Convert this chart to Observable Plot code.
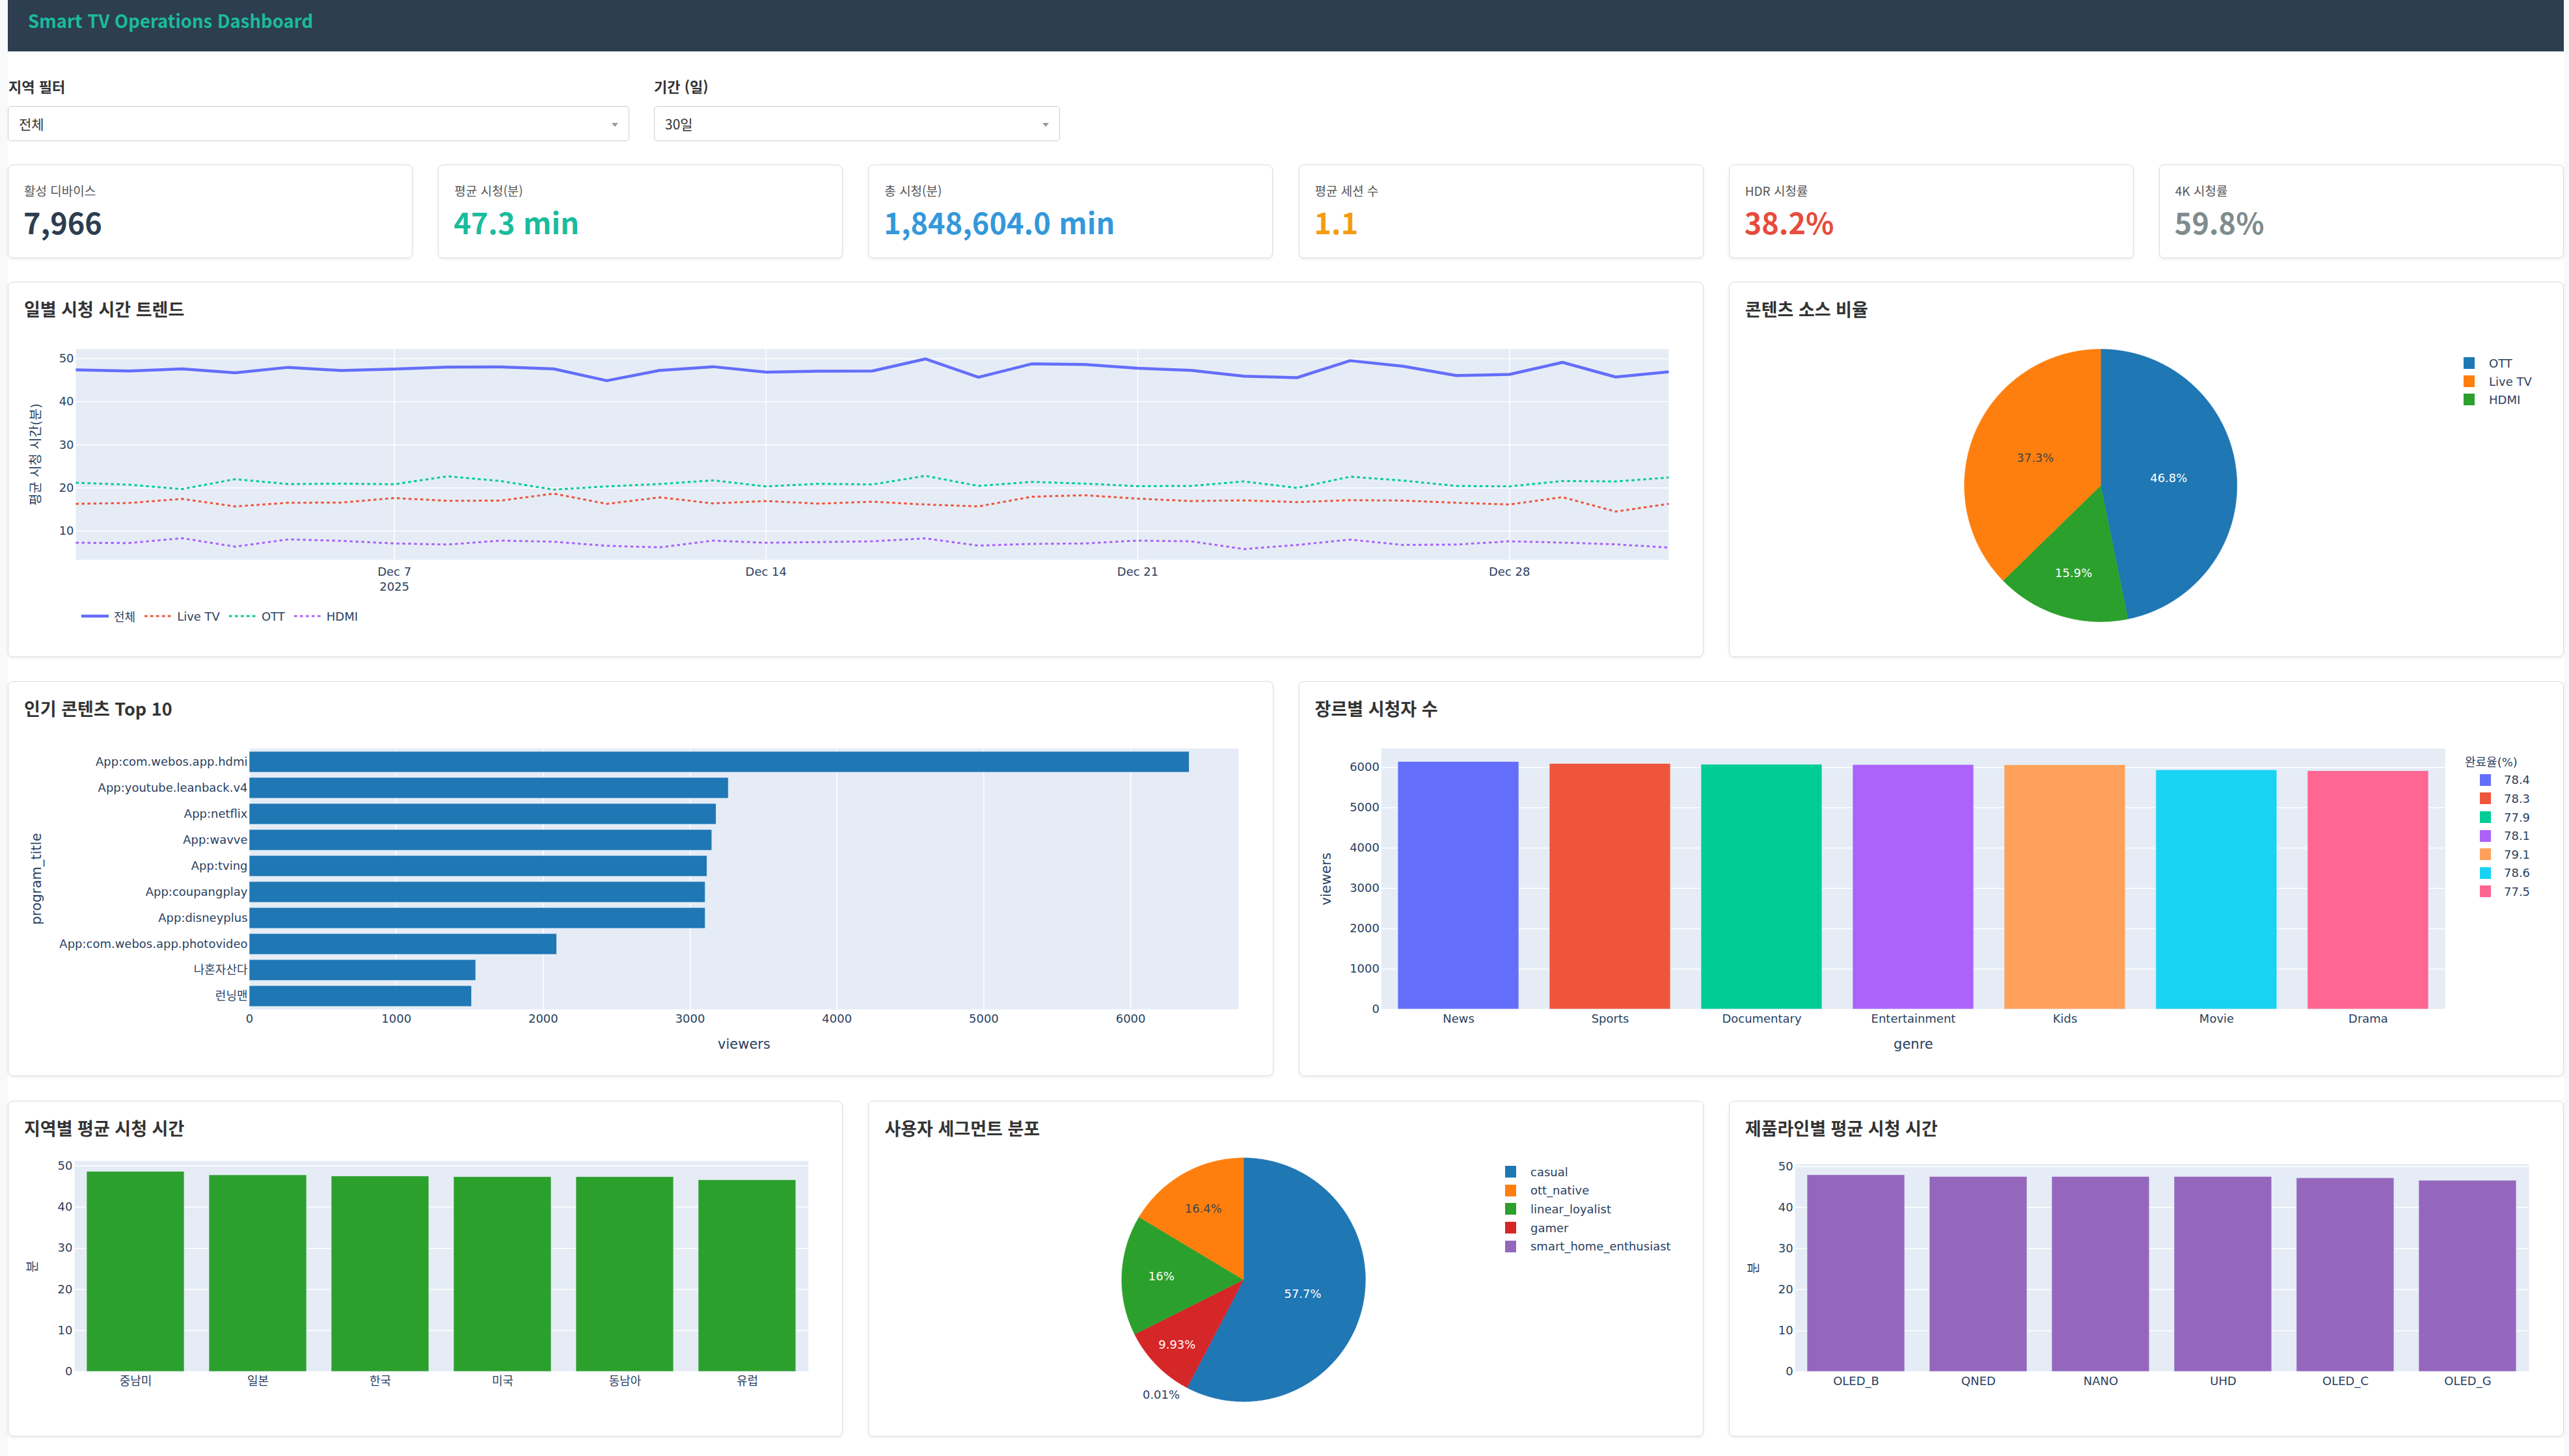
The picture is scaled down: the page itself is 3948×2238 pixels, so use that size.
<!DOCTYPE html>
<html lang="ko">
<head>
<meta charset="utf-8">
<title>Smart TV Operations Dashboard</title>
<script src="https://cdn.jsdelivr.net/npm/d3@7"></script>
<script src="https://cdn.jsdelivr.net/npm/@observablehq/plot@0.6"></script>
<style>
  html, body { margin: 0; padding: 0; }
  body { position: relative; width: 3948px; height: 2238px; overflow: hidden; background: #f8f9fa;
         font-family: "Noto Sans CJK KR", "Noto Sans", sans-serif; color: #333; }
  .abs { position: absolute; }
  #sheet { left: 12px; top: 0; width: 3928px; height: 2238px; background: #fff; }
  #header { left: 12px; top: 0; width: 3928px; height: 79px; background: #2c3e50; }
  #header h1 { position: absolute; margin: 0; left: 31px; top: 17px; font-size: 27.5px; line-height: 28px;
               font-weight: 700; color: #1abc9c; white-space: nowrap; }
  .flabel { font-size: 22px; line-height: 22px; font-weight: 700; color: #333; white-space: nowrap; }
  .select { box-sizing: border-box; height: 54px; border: 1px solid #ccc; border-radius: 5px; background: #fff; }
  .select span { position: absolute; left: 16px; top: 0; line-height: 52px; font-size: 21px; color: #333; }
  .select i { position: absolute; right: 16px; top: 25px; width: 0; height: 0;
              border-left: 5px solid transparent; border-right: 5px solid transparent; border-top: 6px solid #999; }
  .card { box-sizing: border-box; border: 1px solid #dcdcdc; border-radius: 8px; background: #fff;
          box-shadow: 0 2px 5px rgba(0,0,0,0.07); }
  .kpi-label { position: absolute; left: 24px; top: 29px; font-size: 19px; line-height: 20px; color: #555; white-space: nowrap; }
  .kpi-value { position: absolute; left: 23px; top: 64px; font-size: 45px; line-height: 45px; font-weight: 700; white-space: nowrap; }
  .ctitle { position: absolute; left: 24px; top: 27px; font-size: 27px; line-height: 28px; font-weight: 600; color: #333; white-space: nowrap; }
  .legend { position: absolute; font-family: "DejaVu Sans", "Noto Sans CJK KR", sans-serif; font-size: 18px; color: #2a3f5f; white-space: nowrap; }
  .legend .row { display: flex; align-items: center; }
  .legend .sw { display: inline-block; width: 17px; height: 18px; }
</style>
</head>
<body>
<div id="sheet" class="abs"></div>
<div id="header" class="abs"><h1>Smart TV Operations Dashboard</h1></div>

<div class="abs flabel" style="left:13px; top:121px;">지역 필터</div>
<div class="abs select" style="left:12px; top:163px; width:955px;"><span>전체</span><i></i></div>
<div class="abs flabel" style="left:1005px; top:121px;">기간 (일)</div>
<div class="abs select" style="left:1005px; top:163px; width:624px;"><span>30일</span><i></i></div>

<script>
// ---------- KPI tiles ----------
const kpiLabels = ["활성 디바이스", "평균 시청(분)", "총 시청(분)", "평균 세션 수", "HDR 시청률", "4K 시청률"];
const kpiValues = ["7,966", "47.3 min", "1,848,604.0 min", "1.1", "38.2%", "59.8%"];
const kpiInk = ["#2c3e50", "#1abc9c", "#3498db", "#f39c12", "#e74c3c", "#7f8c8d"];

// ---------- daily viewing trend (minutes) ----------
const days = [
  "2025-12-01","2025-12-02","2025-12-03","2025-12-04","2025-12-05","2025-12-06","2025-12-07",
  "2025-12-08","2025-12-09","2025-12-10","2025-12-11","2025-12-12","2025-12-13","2025-12-14",
  "2025-12-15","2025-12-16","2025-12-17","2025-12-18","2025-12-19","2025-12-20","2025-12-21",
  "2025-12-22","2025-12-23","2025-12-24","2025-12-25","2025-12-26","2025-12-27","2025-12-28",
  "2025-12-29","2025-12-30","2025-12-31"
];
const totalMinutes = [47.4, 47.15, 47.65, 46.75, 48.0, 47.25, 47.6, 48.05, 48.1, 47.65, 44.9, 47.3, 48.15, 46.9, 47.1, 47.15,
  49.95, 45.7, 48.8, 48.65, 47.8, 47.3, 45.95, 45.6, 49.55, 48.25, 46.1, 46.35, 49.15, 45.75, 46.95];
const liveTvMinutes = [16.3, 16.5, 17.45, 15.7, 16.55, 16.6, 17.65, 17.0, 17.05, 18.67, 16.3, 17.8, 16.4, 16.95, 16.35, 16.8,
  16.15, 15.7, 17.95, 18.3, 17.5, 16.95, 17.1, 16.7, 17.15, 17.05, 16.55, 16.15, 17.85, 14.5, 16.3];
const ottMinutes = [21.2, 20.74, 19.73, 22.03, 20.9, 21.0, 20.85, 22.7, 21.6, 19.6, 20.35, 20.9, 21.75, 20.35, 20.96, 20.8,
  22.8, 20.46, 21.4, 21.0, 20.4, 20.46, 21.5, 20.0, 22.6, 21.7, 20.46, 20.35, 21.6, 21.5, 22.4];
const hdmiMinutes = [7.26, 7.2, 8.32, 6.36, 8.04, 7.7, 7.1, 6.85, 7.76, 7.5, 6.55, 6.2, 7.76, 7.26, 7.43, 7.6,
  8.27, 6.6, 7.0, 7.1, 7.76, 7.6, 5.8, 6.75, 8.0, 6.75, 6.85, 7.6, 7.3, 6.9, 6.15];
const trendNames = ["전체", "Live TV", "OTT", "HDMI"];
const trendTicks = ["2025-12-07", "2025-12-14", "2025-12-21", "2025-12-28"];
const trendYTicks = [10, 20, 30, 40, 50];

// ---------- content source share (%) ----------
const sourceNames = ["OTT", "Live TV", "HDMI"];
const sourceShares = [46.8, 37.3, 15.9];

// ---------- top 10 content ----------
const topTitles = ["App:com.webos.app.hdmi", "App:youtube.leanback.v4", "App:netflix", "App:wavve", "App:tving",
  "App:coupangplay", "App:disneyplus", "App:com.webos.app.photovideo", "나혼자산다", "런닝맨"];
const topViewers = [6401, 3262, 3179, 3150, 3117, 3105, 3105, 2093, 1542, 1514];
const viewerTicks = [0, 1000, 2000, 3000, 4000, 5000, 6000];

// ---------- viewers by genre ----------
const genres = ["News", "Sports", "Documentary", "Entertainment", "Kids", "Movie", "Drama"];
const genreViewers = [6140, 6090, 6070, 6065, 6060, 5935, 5910];
const completionRates = ["78.4", "78.3", "77.9", "78.1", "79.1", "78.6", "77.5"];

// ---------- average minutes by region ----------
const regions = ["중남미", "일본", "한국", "미국", "동남아", "유럽"];
const regionMinutes = [48.62, 47.74, 47.46, 47.3, 47.3, 46.58];

// ---------- user segments (%) ----------
const segments = ["casual", "ott_native", "linear_loyalist", "gamer", "smart_home_enthusiast"];
const segmentShares = [57.7, 16.4, 16.0, 9.93, 0.01];

// ---------- average minutes by product line ----------
const productLines = ["OLED_B", "QNED", "NANO", "UHD", "OLED_C", "OLED_G"];
const productMinutes = [47.9, 47.5, 47.5, 47.5, 47.18, 46.57];
const minuteTicks = [0, 10, 20, 30, 40, 50];

// ---------- styling ----------
const CHART_FONT = "'DejaVu Sans', 'Noto Sans CJK KR', sans-serif";
const PLOT_BG = "#E5ECF6";
const AXIS_INK = "#2a3f5f";
const PLOTLY = ["#636efa", "#EF553B", "#00cc96", "#ab63fa", "#FFA15A", "#19d3f3", "#FF6692"];
const D3CAT = ["#1f77b4", "#ff7f0e", "#2ca02c", "#d62728", "#9467bd"];
const trendColors = ["#636efa", "#EF553B", "#00cc96", "#ab63fa"];
const trendWidths = [4.5, 3, 3, 3];
const trendDashes = [null, "4.5,4.5", "4.5,4.5", "4.5,4.5"];

// card rectangles and plotting areas, in page pixels
const cards = {
  trend:   {x: 12,     y: 433,  w: 2605.8, h: 577},
  source:  {x: 2656.8, y: 433,  w: 1283.2, h: 577},
  top:     {x: 12,     y: 1047, w: 1944.6, h: 607},
  genre:   {x: 1995.6, y: 1047, w: 1944.4, h: 607},
  region:  {x: 12,     y: 1692, w: 1283.4, h: 516},
  segment: {x: 1334.4, y: 1692, w: 1283.4, h: 516},
  product: {x: 2656.8, y: 1692, w: 1283.2, h: 516}
};
const frames = {
  trend:   {l: 116,  t: 536,  r: 2564, b: 860},
  top:     {l: 383,  t: 1150, r: 1903, b: 1551},
  genre:   {l: 2122, t: 1150, r: 3757, b: 1551},
  region:  {l: 114,  t: 1784, r: 1242, b: 2108},
  product: {l: 2758, t: 1789, r: 3886, b: 2108}
};
const pies = {
  source:  {cx: 3227.6, cy: 745.7,  r: 209.5},
  segment: {cx: 1911,   cy: 1966.6, r: 187.3}
};
const SVG_TOP = 80;

function svgBox(card) {
  return {ox: card.x + 1, oy: card.y + 1 + SVG_TOP, width: card.w - 2, height: card.h - 2 - SVG_TOP};
}
function layout(card, f) {
  const s = svgBox(card);
  return {
    width: s.width, height: s.height,
    marginLeft: f.l - s.ox, marginTop: f.t - s.oy,
    marginRight: s.ox + s.width - f.r, marginBottom: s.oy + s.height - f.b
  };
}
const plotStyle = {fontFamily: CHART_FONT, fontSize: "18px", color: AXIS_INK, background: "transparent", overflow: "visible"};

function makeCard(rect, title) {
  const el = document.createElement("div");
  el.className = "card abs";
  Object.assign(el.style, {left: rect.x + "px", top: rect.y + "px", width: rect.w + "px", height: rect.h + "px"});
  if (title) {
    const h = document.createElement("div");
    h.className = "ctitle";
    h.textContent = title;
    el.appendChild(h);
  }
  document.body.appendChild(el);
  return el;
}
function mount(el, svg) {
  svg.style.position = "absolute";
  svg.style.left = "0px";
  svg.style.top = SVG_TOP + "px";
  el.appendChild(svg);
}
const whiteGridX = ticks => Plot.gridX({ticks, stroke: "#fff", strokeOpacity: 1, strokeWidth: 1.5});
const whiteGridY = ticks => Plot.gridY({ticks, stroke: "#fff", strokeOpacity: 1, strokeWidth: 1.5});
const yTitle = (text, dx, fontSize = 21) => Plot.text([text], {
  text: d => d, frameAnchor: "left", dx, rotate: -90, textAnchor: "middle", lineAnchor: "middle", fontSize
});
const xTitle = (text, dy) => Plot.text([text], {
  text: d => d, frameAnchor: "bottom", dy, textAnchor: "middle", lineAnchor: "middle", fontSize: 21
});

function swatchLegend(parent, {left, top, rowH, gap, title, indent}, names, colors) {
  const lg = document.createElement("div");
  lg.className = "legend";
  Object.assign(lg.style, {left: left + "px", top: top + "px"});
  if (title) {
    const t = document.createElement("div");
    t.className = "row";
    t.style.height = rowH + "px";
    t.textContent = title;
    lg.appendChild(t);
  }
  names.forEach((n, i) => {
    const row = document.createElement("div");
    row.className = "row";
    row.style.height = rowH + "px";
    row.style.paddingLeft = (indent || 0) + "px";
    const sw = document.createElement("span");
    sw.className = "sw";
    sw.style.background = colors[i];
    const tx = document.createElement("span");
    tx.style.marginLeft = gap + "px";
    tx.textContent = n;
    row.append(sw, tx);
    lg.appendChild(row);
  });
  parent.appendChild(lg);
}

// ---------- KPI tiles ----------
kpiLabels.forEach((label, i) => {
  const colW = (3928 - 5 * 39) / 6;
  const el = makeCard({x: 12 + i * (colW + 39), y: 253, w: colW, h: 144});
  const l = document.createElement("div");
  l.className = "kpi-label";
  l.textContent = label;
  const v = document.createElement("div");
  v.className = "kpi-value";
  v.style.color = kpiInk[i];
  v.textContent = kpiValues[i];
  el.append(l, v);
});

// ---------- daily viewing trend ----------
{
  const el = makeCard(cards.trend, "일별 시청 시간 트렌드");
  const series = [totalMinutes, liveTvMinutes, ottMinutes, hdmiMinutes];
  const tickDates = trendTicks.map(d => new Date(d));
  const monthDay = d3.utcFormat("%b %-d");
  const fmt = d => +d === +tickDates[0] ? `${monthDay(d)}\n${d.getUTCFullYear()}` : monthDay(d);
  const svg = Plot.plot({
    ...layout(cards.trend, frames.trend),
    style: plotStyle,
    x: {type: "utc", domain: [new Date(days[0]), new Date(days[days.length - 1])]},
    y: {domain: [3.3, 52.25]},
    marks: [
      Plot.frame({fill: PLOT_BG, stroke: "none"}),
      whiteGridX(tickDates),
      whiteGridY(trendYTicks),
      Plot.axisX({ticks: tickDates, tickFormat: fmt, tickSize: 0, tickPadding: 8, lineHeight: 1.28, label: null}),
      Plot.axisY({ticks: trendYTicks, tickSize: 0, tickPadding: 3, label: null}),
      yTitle("평균 시청 시간(분)", -61, 20),
      ...series.map((values, s) => Plot.line(days.map((d, i) => ({date: new Date(d), value: values[i]})), {
        x: "date", y: "value", stroke: trendColors[s], strokeWidth: trendWidths[s],
        strokeDasharray: trendDashes[s] || undefined, strokeLinecap: "butt", strokeLinejoin: "round"
      }))
    ]
  });
  mount(el, svg);

  // line-sample legend under the plot
  const lg = document.createElement("div");
  lg.className = "legend";
  Object.assign(lg.style, {left: "112px", top: "501px", display: "flex", alignItems: "center", height: "24px"});
  trendNames.forEach((name, s) => {
    const item = document.createElement("div");
    item.style.cssText = "display:flex;align-items:center;margin-right:14px;";
    const sample = d3.create("svg").attr("width", 42).attr("height", 24);
    sample.append("line").attr("x1", 0).attr("x2", 42).attr("y1", 12).attr("y2", 12)
      .attr("stroke", trendColors[s]).attr("stroke-width", trendWidths[s])
      .attr("stroke-dasharray", trendDashes[s]);
    const tx = document.createElement("span");
    tx.style.marginLeft = "8px";
    tx.textContent = name;
    item.append(sample.node(), tx);
    lg.appendChild(item);
  });
  el.appendChild(lg);
}

// ---------- pies ----------
function pieChart(el, card, geo, names, shares, colors) {
  const s = svgBox(card);
  const cx = geo.cx - s.ox, cy = geo.cy - s.oy, r = geo.r;
  // first slice starts at twelve o'clock; the remaining ones run opposite to legend order
  const order = [0, ...d3.range(names.length - 1, 0, -1)];
  const arcs = d3.pie().sort(null).value(i => shares[i]).startAngle(0).endAngle(2 * Math.PI)(order);
  const outline = [], inside = [], outside = [];
  const step = Math.PI / 360;
  for (const a of arcs) {
    const i = a.data, key = names[i], color = colors[i];
    outline.push({key, color, x: 0, y: 0});
    const n = Math.max(1, Math.ceil((a.endAngle - a.startAngle) / step));
    for (let k = 0; k <= n; ++k) {
      const t = a.startAngle + (a.endAngle - a.startAngle) * k / n;
      outline.push({key, color, x: Math.sin(t), y: Math.cos(t)});
    }
    outline.push({key, color, x: 0, y: 0});
    const mid = (a.startAngle + a.endAngle) / 2, half = (a.endAngle - a.startAngle) / 2;
    const label = d3.format(".3~r")(shares[i]) + "%";
    if (shares[i] >= 1) {
      // centre the label in the wedge, pushed outward as the wedge narrows
      const sh = Math.sin(half);
      const rc = 1 - (half >= Math.PI / 2 ? 0.5 : sh / (1 + sh));
      inside.push({x: rc * Math.sin(mid), y: rc * Math.cos(mid), label,
        ink: d3.lab(color).l > 60 ? "#444444" : "#ffffff"});
    } else {
      outside.push({x: 1.07 * Math.sin(mid), y: 1.07 * Math.cos(mid), label, left: Math.sin(mid) < 0});
    }
  }
  const svg = Plot.plot({
    width: s.width, height: s.height, margin: 0,
    style: plotStyle,
    x: {domain: [-1, 1], range: [cx - r, cx + r], axis: null},
    y: {domain: [-1, 1], range: [cy + r, cy - r], axis: null},
    marks: [
      Plot.line(outline, {x: "x", y: "y", z: "key", fill: "color", stroke: "color", strokeWidth: 0.5}),
      Plot.text(inside, {x: "x", y: "y", text: "label", fill: "ink", fontSize: 18}),
      Plot.text(outside.filter(d => d.left), {x: "x", y: "y", text: "label", fill: AXIS_INK, fontSize: 18,
        textAnchor: "end", dx: -5}),
      Plot.text(outside.filter(d => !d.left), {x: "x", y: "y", text: "label", fill: AXIS_INK, fontSize: 18,
        textAnchor: "start", dx: 5})
    ]
  });
  mount(el, svg);
}

{
  const el = makeCard(cards.source, "콘텐츠 소스 비율");
  pieChart(el, cards.source, pies.source, sourceNames, sourceShares, D3CAT);
  swatchLegend(el, {left: 1128.2, top: 110, rowH: 28.2, gap: 22}, sourceNames, D3CAT);
}

// ---------- top 10 content ----------
{
  const el = makeCard(cards.top, "인기 콘텐츠 Top 10");
  const rows = topTitles.map((t, i) => ({title: t, viewers: topViewers[i]}));
  const svg = Plot.plot({
    ...layout(cards.top, frames.top),
    style: plotStyle,
    x: {domain: [0, 6735]},
    y: {domain: topTitles, paddingInner: 0.2, paddingOuter: 0.1},
    marks: [
      Plot.frame({fill: PLOT_BG, stroke: "none"}),
      whiteGridX(viewerTicks),
      Plot.barX(rows, {x: "viewers", y: "title", fill: "#1f77b4", stroke: PLOT_BG, strokeWidth: 0.75, inset: 0}),
      Plot.axisX({ticks: viewerTicks, tickFormat: "d", tickSize: 0, tickPadding: 8, label: null}),
      Plot.axisY({tickSize: 0, tickPadding: 3, label: null}),
      yTitle("program_title", -327),
      xTitle("viewers", 54)
    ]
  });
  mount(el, svg);
}

// ---------- viewers by genre ----------
{
  const el = makeCard(cards.genre, "장르별 시청자 수");
  const rows = genres.map((g, i) => ({genre: g, viewers: genreViewers[i], rate: completionRates[i]}));
  const svg = Plot.plot({
    ...layout(cards.genre, frames.genre),
    style: plotStyle,
    x: {domain: genres, paddingInner: 0.2, paddingOuter: 0.1},
    y: {domain: [0, 6470]},
    color: {type: "ordinal", domain: completionRates, range: PLOTLY},
    marks: [
      Plot.frame({fill: PLOT_BG, stroke: "none"}),
      whiteGridY(viewerTicks),
      Plot.barY(rows, {x: "genre", y: "viewers", fill: "rate", stroke: PLOT_BG, strokeWidth: 0.75, inset: 0}),
      Plot.axisX({tickSize: 0, tickPadding: 8, label: null}),
      Plot.axisY({ticks: viewerTicks, tickFormat: "d", tickSize: 0, tickPadding: 3, label: null}),
      yTitle("viewers", -85),
      xTitle("genre", 54)
    ]
  });
  mount(el, svg);
  swatchLegend(el, {left: 1791.4, top: 108, rowH: 28.6, gap: 20, title: "완료율(%)", indent: 23}, completionRates, PLOTLY);
}

// ---------- vertical minute bars ----------
function minuteBars(el, card, frame, cats, values, color, top, titleDx) {
  const rows = cats.map((c, i) => ({cat: c, minutes: values[i]}));
  const svg = Plot.plot({
    ...layout(card, frame),
    style: plotStyle,
    x: {domain: cats, paddingInner: 0.2, paddingOuter: 0.1},
    y: {domain: [0, top]},
    marks: [
      Plot.frame({fill: PLOT_BG, stroke: "none"}),
      whiteGridY(minuteTicks),
      Plot.barY(rows, {x: "cat", y: "minutes", fill: color, stroke: PLOT_BG, strokeWidth: 0.75, inset: 0}),
      Plot.axisX({tickSize: 0, tickPadding: 8, label: null}),
      Plot.axisY({ticks: minuteTicks, tickSize: 0, tickPadding: 3, label: null}),
      yTitle("분", titleDx, 20)
    ]
  });
  mount(el, svg);
}

{
  const el = makeCard(cards.region, "지역별 평균 시청 시간");
  minuteBars(el, cards.region, frames.region, regions, regionMinutes, "#2ca02c", 51.2, -64);
}

// ---------- user segments ----------
{
  const el = makeCard(cards.segment, "사용자 세그먼트 분포");
  pieChart(el, cards.segment, pies.segment, segments, segmentShares, D3CAT);
  swatchLegend(el, {left: 977.6, top: 94, rowH: 28.6, gap: 22}, segments, D3CAT);
}

{
  const el = makeCard(cards.product, "제품라인별 평균 시청 시간");
  minuteBars(el, cards.product, frames.product, productLines, productMinutes, "#9467bd", 50.55, -63);
}
</script>
</body>
</html>
